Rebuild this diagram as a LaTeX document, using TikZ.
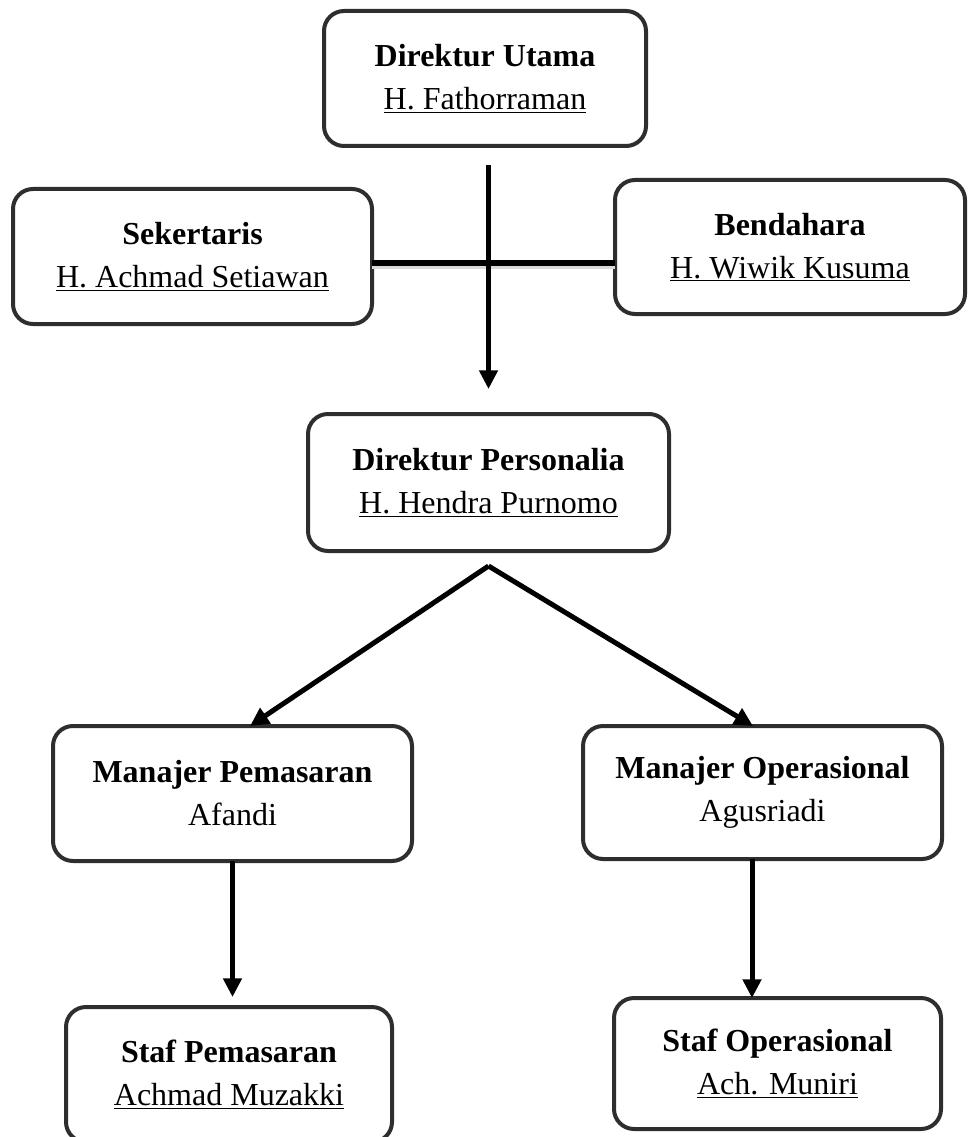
\documentclass[tikz,border=0pt]{standalone}
\usepackage{fontspec}
\setmainfont{Liberation Serif}
\usetikzlibrary{arrows.meta,calc}
\definecolor{boxgray}{HTML}{2E2E2E}
\begin{document}
\begin{tikzpicture}[x=0.75pt,y=-0.75pt,
  box/.style={draw=boxgray, line width=3pt, rounded corners=15pt, inner sep=0pt, outer sep=0pt,
    align=center, font=\fontsize{24pt}{32.25pt}\selectfont},
  conn/.style={draw=black, line width=3.75pt, -{Triangle[length=14pt,width=13.5pt]}},
  hline/.style={draw=black, line width=4pt},
  hshade/.style={draw=black!15, line width=3pt}]
\useasboundingbox (0,0) rectangle (968,1137);
\node[box, minimum width=241.5pt, minimum height=101.25pt] (du) at (485,78.5)
  {\textbf{Direktur Utama}\\\underline{H. Fathorraman}};
\node[box, minimum width=269.25pt, minimum height=101.25pt] (sek) at (192.5,256.5)
  {\textbf{Sekertaris}\\\underline{H. Achmad Setiawan}};
\node[box, minimum width=262.5pt, minimum height=100.5pt] (ben) at (790,247)
  {\textbf{Bendahara}\\\underline{H. Wiwik Kusuma}};
\node[box, minimum width=270.75pt, minimum height=102.75pt] (dp) at (488.5,482.5)
  {\textbf{Direktur Personalia}\\\underline{H. Hendra Purnomo}};
\node[box, minimum width=269.25pt, minimum height=101.25pt] (mp) at (232.5,793.5)
  {\textbf{Manajer Pemasaran}\\Afandi};
\node[box, minimum width=269.25pt, minimum height=99.75pt] (mo) at (762.5,792.5)
  {\textbf{Manajer Operasional}\\Agusriadi};
\node[box, minimum width=244.5pt, minimum height=101.25pt] (sp) at (229,1074.5)
  {\textbf{Staf Pemasaran}\\\underline{Achmad Muzakki}};
\node[box, minimum width=245.25pt, minimum height=98.25pt] (so) at (777.5,1063.5)
  {\textbf{Staf Operasional}\\\underline{Ach. Muniri}};
% horizontal staff line
\coordinate (cross) at (488.5,263);
\draw[hshade] ($(cross -| sek.east)+(0,4.5)$) -- ($(cross -| ben.west)+(0,4.5)$);
\draw[hline] (cross -| sek.east) -- (cross -| ben.west);
% main vertical arrow
\draw[conn] ($(du.south -| dp.north)+(0,19)$) -- ($(dp.north)+(0,-25)$);
% diagonal arrows
\coordinate (apex) at ($(dp.south)+(0,15)$);
\draw[conn] (apex) -- ($(mp.north)+(17.5,0)$);
\draw[conn] (apex) -- ($(mo.north)+(-9.5,0)$);
% vertical arrows to staff
\draw[conn] (mp.south) -- ($(mp.south |- sp.north)+(0,-10)$);
\draw[conn] ($(mo.south)+(-10.5,0)$) -- ($(mo.south |- so.north)+(-10.5,0)$);
\end{tikzpicture}
\end{document}
